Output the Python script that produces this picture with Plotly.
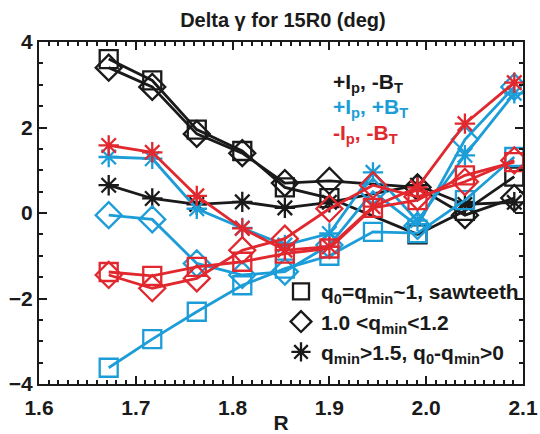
import plotly.graph_objects as go

R = [1.672, 1.717, 1.763, 1.81, 1.854, 1.90, 1.945, 1.991, 2.04, 2.091]

black_sq = [3.6, 3.1, 1.95, 1.45, 0.6, 0.35, None, -0.5, 0.05, 0.85]
black_di = [3.4, 2.95, 1.85, 1.4, 0.7, 0.75, None, 0.6, -0.05, 0.35]
black_st = [0.65, 0.34, 0.2, 0.26, 0.12, 0.25, None, 0.65, 0.2, 0.25]

cyan_sq = [-3.62, -2.95, -2.31, -1.69, -1.3, -1.0, -0.44, -0.47, 0.3, 1.31]
cyan_di = [-0.05, -0.15, -1.18, -1.45, -1.37, -0.75, 0.5, -0.3, 1.72, 2.95]
cyan_st = [1.31, 1.27, 0.1, -0.35, -0.75, -0.48, 0.95, -0.18, 1.35, 2.8]

red_sq = [-1.38, -1.47, -1.26, -1.14, -0.95, -0.83, 0.12, 0.3, 0.88, 1.19]
red_di = [-1.45, -1.76, -1.53, -0.87, -0.6, 0.1, 0.65, 0.38, 0.73, 1.23]
red_st = [1.58, 1.42, 0.4, -0.36, -0.87, -0.79, 0.15, 0.6, 2.09, 3.05]

BLACK = "#1a1a1a"
CYAN = "#1c9dd8"
RED = "#e0282e"

FONT = "Liberation Sans, Arial, sans-serif"

series = [
    (black_sq, BLACK, "square-open"),
    (black_di, BLACK, "diamond-open"),
    (black_st, BLACK, "asterisk-open"),
    (cyan_sq, CYAN, "square-open"),
    (cyan_di, CYAN, "diamond-open"),
    (cyan_st, CYAN, "asterisk-open"),
    (red_sq, RED, "square-open"),
    (red_di, RED, "diamond-open"),
    (red_st, RED, "asterisk-open"),
]

fig = go.Figure()
for vals, col, sym in series:
    size = 18 if sym == "square-open" else (20 if sym == "diamond-open" else 17)
    fig.add_trace(go.Scatter(
        x=R, y=vals, mode="lines+markers", connectgaps=True,
        line=dict(color=col, width=2.8),
        marker=dict(symbol=sym, size=size, color=col,
                    line=dict(color=col, width=2.3)),
        showlegend=False, hoverinfo="skip"))

legend_names = [
    ("q<sub>0</sub>=q<sub>min</sub>~1, sawteeth", "square-open"),
    ("1.0 <q<sub>min</sub><1.2", "diamond-open"),
    ("q<sub>min</sub>>1.5, q<sub>0</sub>-q<sub>min</sub>>0", "asterisk-open"),
]
for name, sym in legend_names:
    fig.add_trace(go.Scatter(
        x=[None], y=[None], mode="markers", name=name,
        marker=dict(symbol=sym, size=16, color=BLACK,
                    line=dict(color=BLACK, width=2.3))))

ann_font = dict(family=FONT, size=21, weight="bold")
labels = [
    ("+I<sub>p</sub>, -B<sub>T</sub>", BLACK, 3.05),
    ("+I<sub>p</sub>, +B<sub>T</sub>", CYAN, 2.45),
    ("-I<sub>p</sub>, -B<sub>T</sub>", RED, 1.85),
]
for txt, col, yv in labels:
    fig.add_annotation(x=1.902, y=yv, xref="x", yref="y", text=txt,
                       showarrow=False, xanchor="left", yanchor="middle",
                       font=dict(ann_font, color=col))

axis_common = dict(
    showline=True, linecolor=BLACK, linewidth=2, mirror="allticks",
    ticks="inside", ticklen=8, tickwidth=2, tickcolor=BLACK,
    showgrid=False, zeroline=False, automargin=False,
    tickfont=dict(family=FONT, size=21, color=BLACK, weight="bold"),
)

fig.update_xaxes(range=[1.6, 2.1], tickvals=[1.6, 1.7, 1.8, 1.9, 2.0, 2.1],
                 ticktext=["1.6", "1.7", "1.8", "1.9", "2.0", "2.1"],
                 ticklabelstandoff=4,
                 minor=dict(dtick=0.01, ticklen=4, tickwidth=1.5,
                            tickcolor=BLACK, ticks="inside"),
                 title=dict(text="R", standoff=0,
                            font=dict(family=FONT, size=21, color=BLACK, weight="bold")),
                 **axis_common)
fig.update_yaxes(range=[-4, 4], tickvals=[-4, -2, 0, 2, 4],
                 minor=dict(dtick=0.5, ticklen=4, tickwidth=1.5,
                            tickcolor=BLACK, ticks="inside"),
                 **axis_common)

fig.update_layout(
    width=540, height=434,
    margin=dict(l=38.5, r=16.5, t=41.7, b=50),
    paper_bgcolor="white", plot_bgcolor="white",
    title=dict(text="Delta \u03b3 for 15R0 (deg)", x=0.524, xanchor="center",
               y=0.955, yanchor="middle",
               font=dict(family=FONT, size=20, color=BLACK, weight="bold")),
    legend=dict(x=0.50, y=0.33, xanchor="left", yanchor="top",
                bgcolor="rgba(0,0,0,0)", borderwidth=0,
                font=dict(family=FONT, size=21, color=BLACK, weight="bold"),
                itemsizing="trace", tracegroupgap=0, itemwidth=30),
)

fig.write_html("out.html")
